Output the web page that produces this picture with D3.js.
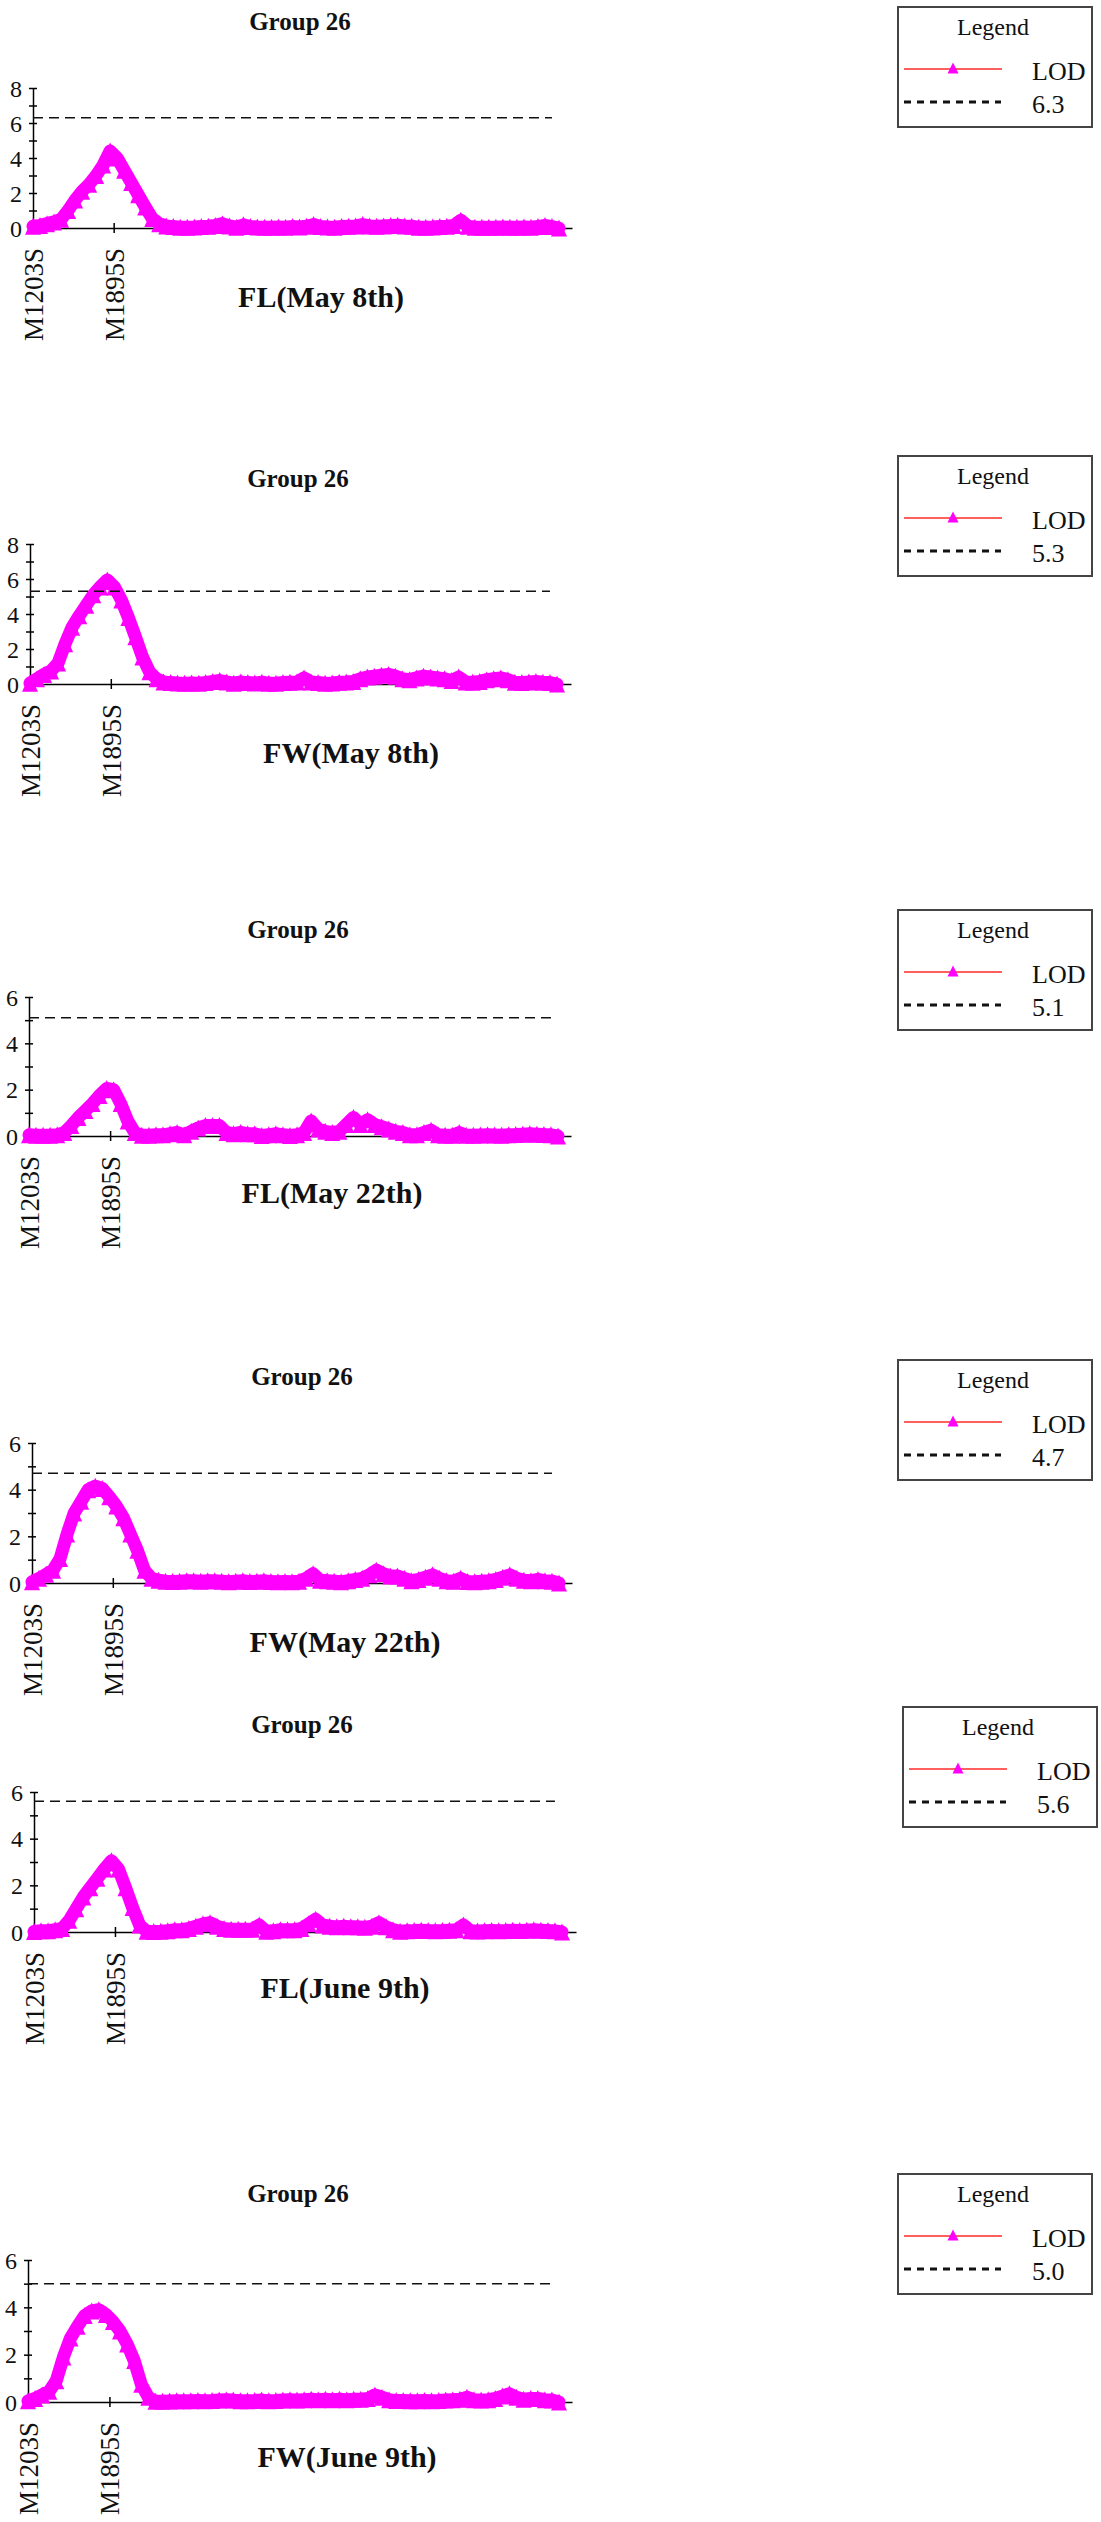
<!DOCTYPE html>
<html lang="en">
<head>
<meta charset="UTF-8" />
<title>Group 26 LOD profiles</title>
<script src="https://d3js.org/d3.v7.min.js"></script>
<style>
  body { margin: 0; background: #fff; }
  svg text { font-family: "Liberation Serif", "Times New Roman", serif; fill: #111; }
</style>
</head>
<body>
<div id="chart"></div>
<script>
  // ---- data ----
  // map position (cM) of every LOD sample
  const cM = [0, 2, 4, 6, 8, 10, 12, 14, 16, 18, 20, 22, 24, 26, 28, 30, 32, 34, 36, 38,
    40, 42, 44, 46, 48, 50, 52, 54, 56, 58, 60, 62, 64, 66, 68, 70, 72, 74, 76, 78,
    80, 82, 84, 86, 88, 90, 92, 94, 96, 98, 100, 102, 104, 106, 108, 110, 112, 114, 116, 118,
    120, 122, 124, 126, 128, 130, 132, 134, 136, 138, 140, 142, 144, 146, 148, 150]

  const markerNames = ["M1203S", "M1895S"]
  const markerPos = [0, 23]

  const panelTitles = ["Group 26", "Group 26", "Group 26", "Group 26", "Group 26", "Group 26"]
  const traitLabels = ["FL(May 8th)", "FW(May 8th)", "FL(May 22th)", "FW(May 22th)", "FL(June 9th)", "FW(June 9th)"]
  const lodThreshold = [6.3, 5.3, 5.1, 4.7, 5.6, 5.0]
  const yMax = [8, 8, 6, 6, 6, 6]

  const fl0508 = [
    0.10, 0.15, 0.25, 0.35, 0.50, 1.00, 1.60, 2.10, 2.50, 3.00,
    3.60, 4.40, 4.00, 3.30, 2.60, 1.90, 1.20, 0.55, 0.25, 0.12,
    0.08, 0.05, 0.05, 0.06, 0.08, 0.10, 0.15, 0.25, 0.12, 0.05,
    0.18, 0.08, 0.06, 0.05, 0.05, 0.06, 0.05, 0.08, 0.06, 0.10,
    0.20, 0.08, 0.06, 0.05, 0.08, 0.10, 0.12, 0.20, 0.12, 0.10,
    0.12, 0.14, 0.16, 0.12, 0.10, 0.05, 0.05, 0.06, 0.08, 0.10,
    0.15, 0.45, 0.10, 0.05, 0.05, 0.04, 0.05, 0.06, 0.05, 0.05,
    0.06, 0.05, 0.08, 0.15, 0.08, 0.00]
  const fw0508 = [
    0.05, 0.30, 0.55, 0.75, 1.20, 2.30, 3.25, 3.90, 4.50, 5.10,
    5.55, 5.95, 5.55, 4.80, 3.80, 2.70, 1.55, 0.70, 0.30, 0.12,
    0.08, 0.06, 0.05, 0.06, 0.05, 0.08, 0.15, 0.20, 0.12, 0.05,
    0.12, 0.08, 0.06, 0.10, 0.05, 0.05, 0.08, 0.10, 0.12, 0.35,
    0.12, 0.08, 0.05, 0.06, 0.10, 0.12, 0.15, 0.30, 0.40, 0.45,
    0.50, 0.55, 0.45, 0.30, 0.25, 0.35, 0.45, 0.40, 0.35, 0.30,
    0.20, 0.40, 0.12, 0.10, 0.15, 0.25, 0.30, 0.35, 0.25, 0.10,
    0.08, 0.12, 0.15, 0.10, 0.08, 0.00]
  const fl0522 = [
    0.05, 0.03, 0.03, 0.03, 0.05, 0.15, 0.45, 0.80, 1.10, 1.40,
    1.75, 2.05, 2.00, 1.40, 0.65, 0.15, 0.03, 0.03, 0.05, 0.05,
    0.10, 0.15, 0.05, 0.20, 0.35, 0.45, 0.45, 0.45, 0.15, 0.10,
    0.15, 0.10, 0.10, 0.02, 0.05, 0.10, 0.05, 0.02, 0.05, 0.15,
    0.65, 0.30, 0.20, 0.15, 0.20, 0.50, 0.80, 0.50, 0.70, 0.50,
    0.40, 0.30, 0.20, 0.15, 0.05, 0.05, 0.15, 0.25, 0.05, 0.03,
    0.03, 0.15, 0.03, 0.03, 0.04, 0.05, 0.04, 0.03, 0.05, 0.06,
    0.08, 0.10, 0.08, 0.06, 0.05, 0.00]
  const fw0522 = [
    0.05, 0.20, 0.37, 0.55, 1.05, 2.10, 3.00, 3.50, 4.00, 4.15,
    4.05, 3.70, 3.30, 2.80, 2.10, 1.40, 0.55, 0.20, 0.12, 0.08,
    0.06, 0.08, 0.10, 0.10, 0.08, 0.10, 0.10, 0.08, 0.05, 0.08,
    0.10, 0.06, 0.08, 0.10, 0.06, 0.05, 0.06, 0.05, 0.08, 0.20,
    0.40, 0.12, 0.10, 0.08, 0.05, 0.10, 0.15, 0.20, 0.35, 0.55,
    0.40, 0.30, 0.30, 0.20, 0.10, 0.15, 0.25, 0.35, 0.20, 0.10,
    0.08, 0.20, 0.06, 0.05, 0.08, 0.10, 0.15, 0.25, 0.35, 0.20,
    0.12, 0.10, 0.15, 0.10, 0.08, 0.00]
  const fl0609 = [
    0.02, 0.05, 0.05, 0.10, 0.15, 0.50, 1.00, 1.50, 1.90, 2.30,
    2.70, 3.05, 2.70, 1.90, 1.05, 0.30, 0.03, 0.02, 0.03, 0.05,
    0.10, 0.10, 0.15, 0.25, 0.35, 0.40, 0.25, 0.15, 0.12, 0.12,
    0.12, 0.12, 0.30, 0.03, 0.05, 0.10, 0.10, 0.10, 0.15, 0.35,
    0.55, 0.30, 0.25, 0.22, 0.25, 0.22, 0.22, 0.20, 0.25, 0.40,
    0.22, 0.10, 0.03, 0.05, 0.06, 0.08, 0.06, 0.05, 0.06, 0.08,
    0.10, 0.30, 0.05, 0.04, 0.05, 0.06, 0.05, 0.06, 0.08, 0.06,
    0.08, 0.10, 0.08, 0.06, 0.05, 0.00]
  const fw0609 = [
    0.05, 0.15, 0.30, 0.45, 0.90, 1.90, 2.70, 3.20, 3.65, 3.85,
    3.90, 3.70, 3.40, 3.00, 2.45, 1.75, 0.75, 0.20, 0.03, 0.03,
    0.04, 0.05, 0.05, 0.05, 0.06, 0.05, 0.06, 0.08, 0.10, 0.08,
    0.05, 0.05, 0.06, 0.08, 0.05, 0.06, 0.08, 0.10, 0.08, 0.10,
    0.12, 0.10, 0.12, 0.10, 0.12, 0.10, 0.12, 0.12, 0.15, 0.30,
    0.20, 0.10, 0.06, 0.06, 0.05, 0.05, 0.06, 0.05, 0.06, 0.08,
    0.10, 0.12, 0.20, 0.10, 0.08, 0.10, 0.15, 0.25, 0.35, 0.20,
    0.12, 0.15, 0.15, 0.10, 0.08, 0.00]

  const lodValues = [fl0508, fw0508, fl0522, fw0522, fl0609, fw0609]

  // ---- layout (pixels) for each panel ----
  // ax: y axis x, cx: last sample x, ex: end of x axis, top/zero: y axis ends
  const layout = [
    { ax: 33, cx: 559, ex: 572, top: 88, zero: 228, titleX: 300, titleY: 30, subX: 321, subY: 307, legX: 898, legY: 7 },
    { ax: 30, cx: 557, ex: 571, top: 544, zero: 684, titleX: 298, titleY: 487, subX: 351, subY: 763, legX: 898, legY: 456 },
    { ax: 29, cx: 558, ex: 571, top: 997, zero: 1136, titleX: 298, titleY: 938, subX: 332, subY: 1203, legX: 898, legY: 910 },
    { ax: 32, cx: 559, ex: 572, top: 1443, zero: 1583, titleX: 302, titleY: 1385, subX: 345, subY: 1652, legX: 898, legY: 1360 },
    { ax: 34, cx: 562, ex: 576, top: 1792, zero: 1932, titleX: 302, titleY: 1733, subX: 345, subY: 1998, legX: 903, legY: 1707 },
    { ax: 28, cx: 559, ex: 572, top: 2260, zero: 2402, titleX: 298, titleY: 2202, subX: 347, subY: 2467, legX: 898, legY: 2174 }
  ]

  const width = 1101
  const height = 2522
  const magenta = "#ff00ff"

  const svg = d3.select("#chart")
    .append("svg")
    .attr("width", width)
    .attr("height", height)

  svg.append("rect").attr("width", width).attr("height", height).attr("fill", "#fff")

  // triangle marker
  function tri(w, h) {
    return `M0,${-h / 2}L${w / 2},${h / 2}L${-w / 2},${h / 2}Z`
  }

  layout.forEach((L, i) => {
    const g = svg.append("g")
    const vals = lodValues[i]

    const x = d3.scaleLinear().domain([0, 150]).range([L.ax, L.cx])
    const xAxisScale = x.copy().domain([0, x.invert(L.ex)]).range([L.ax, L.ex])
    const y = d3.scaleLinear().domain([0, yMax[i]]).range([L.zero, L.top])

    // y axis with crossing ticks, labels on even numbers
    const yAxis = g.append("g")
      .attr("transform", `translate(${L.ax},0)`)
      .call(d3.axisLeft(y).ticks(yMax[i]).tickSizeOuter(0).tickSizeInner(4)
        .tickFormat(d => d % 2 === 0 ? d : ""))
    yAxis.select(".domain").attr("stroke-width", 1.5)
    yAxis.selectAll(".tick line").attr("x1", -4).attr("x2", 4).attr("stroke-width", 1.5)
    yAxis.selectAll(".tick text").attr("x", -11).attr("dy", "0.34em").style("font-size", "24px")

    // x axis with the two marker names
    const xAxis = g.append("g")
      .attr("transform", `translate(0,${L.zero})`)
      .call(d3.axisBottom(xAxisScale).tickValues(markerPos).tickSizeOuter(0).tickSizeInner(5)
        .tickFormat((d, k) => markerNames[k]))
    xAxis.select(".domain").attr("stroke-width", 1.5)
    xAxis.selectAll(".tick line").attr("y1", -5).attr("y2", 5).attr("stroke-width", 1.5)
    xAxis.selectAll(".tick text")
      .attr("transform", "rotate(-90)")
      .attr("x", -20)
      .attr("y", 0)
      .attr("dy", "0.35em")
      .style("text-anchor", "end")
      .style("font-size", "27px")

    // LOD curve: thick line with dense triangle markers
    const line = d3.line().x((d, k) => x(d)).y((d, k) => y(vals[k]))
    g.append("path")
      .attr("d", line(cM))
      .attr("fill", "none")
      .attr("stroke", magenta)
      .attr("stroke-width", 13)
      .attr("stroke-linejoin", "round")
      .attr("stroke-linecap", "round")
    g.selectAll("path.tri")
      .data(cM)
      .join("path")
      .attr("class", "tri")
      .attr("d", tri(16, 17))
      .attr("transform", (d, k) => `translate(${x(d)},${y(vals[k])})`)
      .attr("fill", magenta)

    // threshold
    g.append("line")
      .attr("x1", x(0)).attr("x2", x(148))
      .attr("y1", y(lodThreshold[i])).attr("y2", y(lodThreshold[i]))
      .attr("stroke", "#111")
      .attr("stroke-width", 1.5)
      .attr("stroke-dasharray", "10,6")

    // titles
    g.append("text")
      .attr("x", L.titleX).attr("y", L.titleY)
      .attr("text-anchor", "middle")
      .style("font-size", "25px").style("font-weight", "bold")
      .text(panelTitles[i])
    g.append("text")
      .attr("x", L.subX).attr("y", L.subY)
      .attr("text-anchor", "middle")
      .style("font-size", "30px").style("font-weight", "bold")
      .text(traitLabels[i])

    // legend
    const lg = svg.append("g").attr("transform", `translate(${L.legX},${L.legY})`)
    lg.append("rect")
      .attr("width", 194).attr("height", 120)
      .attr("fill", "#fff").attr("stroke", "#444").attr("stroke-width", 2)
    lg.append("text").attr("x", 95).attr("y", 28)
      .attr("text-anchor", "middle").style("font-size", "24px").text("Legend")
    lg.append("line").attr("x1", 6).attr("x2", 104).attr("y1", 62).attr("y2", 62)
      .attr("stroke", "#ff2a2a").attr("stroke-width", 1.5)
    lg.append("path").attr("d", tri(11, 11)).attr("transform", "translate(55,61)").attr("fill", magenta)
    lg.append("text").attr("x", 134).attr("y", 73).style("font-size", "26px").text("LOD")
    lg.append("line").attr("x1", 6).attr("x2", 103).attr("y1", 95).attr("y2", 95)
      .attr("stroke", "#111").attr("stroke-width", 3).attr("stroke-dasharray", "7,6")
    lg.append("text").attr("x", 134).attr("y", 106).style("font-size", "26px")
      .text(d3.format(".1f")(lodThreshold[i]))
  })
</script>
</body>
</html>
